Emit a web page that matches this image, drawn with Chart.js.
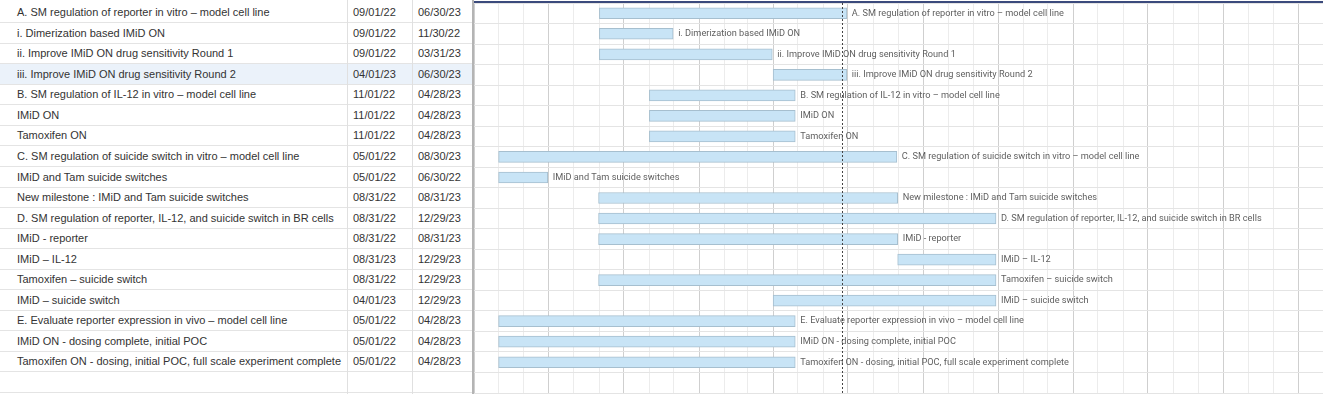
<!DOCTYPE html>
<html>
<head>
<meta charset="utf-8">
<script src="https://cdn.jsdelivr.net/npm/chart.js@4.4.1/dist/chart.umd.min.js"></script>
<style>
    body { margin: 0; background: #fff; width: 1323px; height: 394px; overflow: hidden; position: relative; font-family: "Liberation Sans", Arial, sans-serif; }
    #table { position: absolute; left: 0; top: 0; width: 472px; height: 394px; }
    .row { position: absolute; left: 0; width: 472px; border-bottom: 1px solid #e4e4e4; box-sizing: border-box; font-size: 11px; color: #333; }
    .row.sel { background: #ebf2fa; }
    .cell { position: absolute; top: -0.5px; white-space: nowrap; }
    .c1 { left: 17px; }
    .c2 { left: 353px; }
    .c3 { left: 418px; }
    .vline { position: absolute; top: 0; height: 394px; width: 1px; background: #e0e0e0; }
    #border { position: absolute; left: 472px; top: 0; width: 2px; height: 394px; background: #b4b4b4; }
    #topline { position: absolute; left: 474px; top: 1px; width: 849px; height: 2px; background: #3b4a7c; }
    #wrap { position: absolute; left: 474px; top: 0; width: 849px; height: 394px; }
</style>
</head>
<body>
<div id="table"></div>
<div class="vline" style="left:347px"></div>
<div class="vline" style="left:412px"></div>
<div id="border"></div>
<div id="wrap"><canvas id="gantt"></canvas></div>
<div id="topline"></div>
<script>
var tasks = [
    'A. SM regulation of reporter in vitro \u2013 model cell line',
    'i. Dimerization based IMiD ON',
    'ii. Improve IMiD ON drug sensitivity Round 1',
    'iii. Improve IMiD ON drug sensitivity Round 2',
    'B. SM regulation of IL-12 in vitro \u2013 model cell line',
    'IMiD ON',
    'Tamoxifen ON',
    'C. SM regulation of suicide switch in vitro \u2013 model cell line',
    'IMiD and Tam suicide switches',
    'New milestone : IMiD and Tam suicide switches',
    'D. SM regulation of reporter, IL-12, and suicide switch in BR cells',
    'IMiD - reporter',
    'IMiD \u2013 IL-12',
    'Tamoxifen \u2013 suicide switch',
    'IMiD \u2013 suicide switch',
    'E. Evaluate reporter expression in vivo \u2013 model cell line',
    'IMiD ON - dosing complete, initial POC',
    'Tamoxifen ON - dosing, initial POC, full scale experiment complete'
];
var startDates = ['09/01/22', '09/01/22', '09/01/22', '04/01/23', '11/01/22', '11/01/22', '11/01/22', '05/01/22', '05/01/22',
    '08/31/22', '08/31/22', '08/31/22', '08/31/23', '08/31/22', '04/01/23', '05/01/22', '05/01/22', '05/01/22'];
var endDates = ['06/30/23', '11/30/22', '03/31/23', '06/30/23', '04/28/23', '04/28/23', '04/28/23', '08/30/23', '06/30/22',
    '08/31/23', '12/29/23', '08/31/23', '12/29/23', '12/29/23', '12/29/23', '04/28/23', '04/28/23', '04/28/23'];
var selectedRow = 3;
var todayDate = '06/24/23';
var axisStart = '04/01/22';
var axisEnd = '01/31/25';

function toDay(s) {
    var p = s.split('/');
    return Date.UTC(2000 + parseInt(p[2], 10), parseInt(p[0], 10) - 1, parseInt(p[1], 10)) / 86400000;
}

var TOP = 2.8, ROWH = 20.53;

// Tableau à gauche
var tableHtml = '';
for (var i = 0; i < tasks.length + 1; i++) {
    var name = tasks[i] || '', s = startDates[i] || '', e = endDates[i] || '';
    tableHtml += '<div class="row' + (i === selectedRow ? ' sel' : '') + '" style="top:' + (TOP + i * ROWH) + 'px;height:' + ROWH +
        'px;line-height:' + ROWH + 'px">' +
        '<span class="cell c1">' + name + '</span>' +
        '<span class="cell c2">' + s + '</span>' +
        '<span class="cell c3">' + e + '</span></div>';
}
document.getElementById('table').innerHTML = tableHtml;

// Graduations mensuelles
var minDay = toDay(axisStart), maxDay = toDay(axisEnd);
var monthTicks = [];
for (var y = 2022; y <= 2025; y++) {
    for (var m = 0; m < 12; m++) {
        var d = Date.UTC(y, m, 1) / 86400000;
        if (d >= minDay && d <= maxDay) monthTicks.push({ value: d, q: m % 3 === 0 });
    }
}

var rowLabels = tasks.concat(['']);
var barData = tasks.map(function (t, i) { return [toDay(startDates[i]), toDay(endDates[i])]; });

var ganttLabels = {
    id: 'ganttLabels',
    afterDatasetsDraw: function (chart) {
        var ctx = chart.ctx, meta = chart.getDatasetMeta(0);
        ctx.save();
        ctx.font = '9.2px Roboto, "Noto Sans", sans-serif';
        ctx.fillStyle = '#5f5f5f';
        ctx.textBaseline = 'middle';
        meta.data.forEach(function (bar, i) {
            ctx.fillText(tasks[i], bar.x + 5, bar.y);
        });
        // ligne du jour
        var x = Math.round(chart.scales.x.getPixelForValue(toDay(todayDate))) + 0.5;
        ctx.strokeStyle = '#444';
        ctx.lineWidth = 1;
        ctx.setLineDash([2, 2]);
        ctx.beginPath();
        ctx.moveTo(x, chart.chartArea.top);
        ctx.lineTo(x, chart.height);
        ctx.stroke();
        ctx.restore();
    }
};

var ctx = document.getElementById('gantt').getContext('2d');
var ganttChart = new Chart(ctx, {
    type: 'bar',
    data: {
        labels: rowLabels,
        datasets: [{
            data: barData,
            backgroundColor: '#c8e4f6',
            borderColor: '#a6bfcf',
            borderWidth: 1,
            borderSkipped: false,
            barThickness: 11
        }]
    },
    options: {
        indexAxis: 'y',
        responsive: true,
        maintainAspectRatio: false,
        animation: false,
        layout: { padding: { top: 3, bottom: 1, left: 0, right: 0 } },
        scales: {
            x: {
                type: 'linear',
                position: 'top',
                min: minDay,
                max: maxDay,
                afterBuildTicks: function (scale) {
                    scale.ticks = monthTicks.map(function (t) { return { value: t.value }; });
                },
                ticks: { display: false },
                border: { display: false },
                grid: {
                    drawTicks: false,
                    color: function (c) {
                        var t = monthTicks[c.index];
                        return t && t.q ? '#cfcfcf' : '#ececec';
                    }
                }
            },
            y: {
                ticks: { display: false },
                border: { display: false },
                grid: { drawTicks: false, color: '#e4e4e4' }
            }
        },
        plugins: {
            legend: { display: false },
            tooltip: { enabled: false }
        }
    },
    plugins: [ganttLabels]
});
</script>
</body>
</html>
